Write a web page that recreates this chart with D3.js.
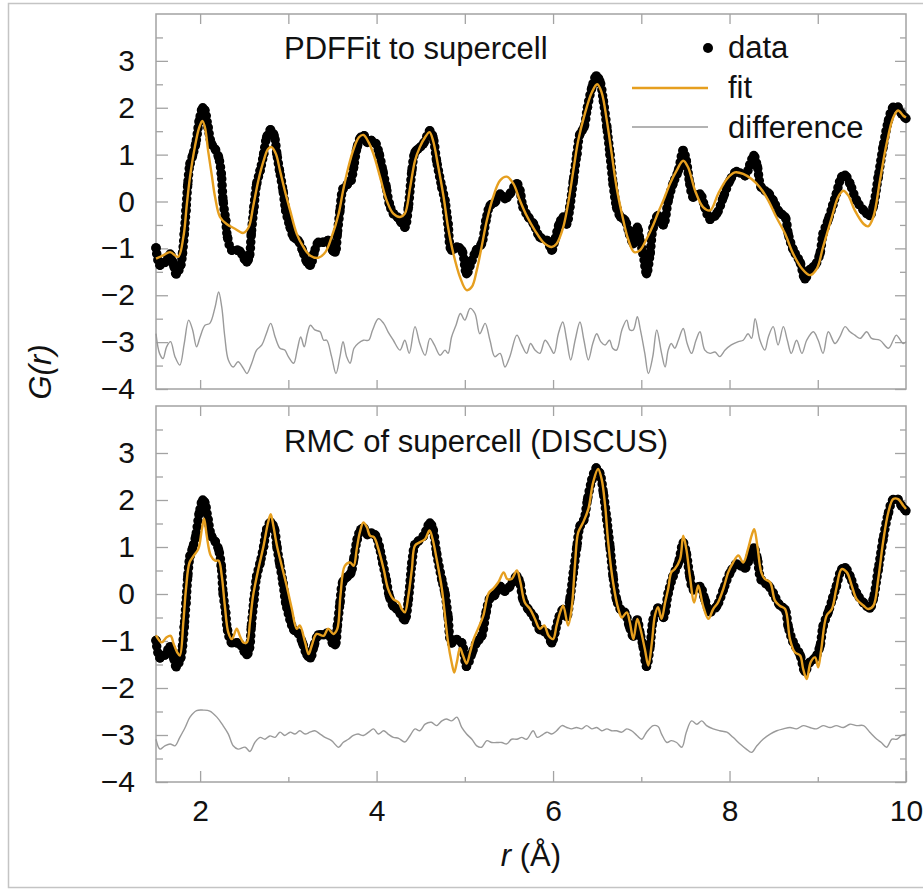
<!DOCTYPE html>
<html lang="en">
<head>
<meta charset="UTF-8">
<title>G(r): PDFFit and RMC of supercell</title>
<script src="https://d3js.org/d3.v7.min.js"></script>
<style>
  body { margin: 0; background: #fff; }
  svg { display: block; font-family: "Liberation Sans", Arial, Helvetica, sans-serif; }
  .tick text { fill: #111; }
</style>
</head>
<body>
<script>
// observed G(r), shared by both panels
const obsPts = [[1.50,-0.99],[1.545,-1.36],[1.60,-1.30],[1.66,-1.12],[1.70,-1.36],[1.73,-1.55],[1.78,-1.36],[1.80,-1.11],[1.82,-0.69],[1.84,-0.19],[1.86,0.37],[1.885,0.80],[1.915,0.98],[1.95,1.23],[1.99,1.72],[2.03,2.0],[2.055,1.94],[2.09,1.58],[2.13,1.23],[2.17,1.12],[2.21,0.94],[2.24,0.59],[2.26,0.02],[2.29,-0.40],[2.31,-0.76],[2.36,-1.04],[2.42,-1.04],[2.45,-1.06],[2.50,-1.22],[2.53,-1.29],[2.56,-1.15],[2.58,-0.69],[2.61,-0.12],[2.64,0.37],[2.68,0.66],[2.72,1.01],[2.754,1.37],[2.80,1.53],[2.84,1.40],[2.87,1.01],[2.90,0.66],[2.94,0.23],[2.97,-0.19],[3.02,-0.55],[3.06,-0.76],[3.11,-0.83],[3.16,-1.04],[3.21,-1.29],[3.25,-1.36],[3.29,-1.11],[3.34,-0.87],[3.40,-0.87],[3.45,-0.83],[3.50,-1.04],[3.53,-1.08],[3.555,-0.69],[3.585,-0.19],[3.62,0.27],[3.67,0.37],[3.71,0.45],[3.74,0.73],[3.78,1.16],[3.82,1.37],[3.86,1.40],[3.895,1.26],[3.94,1.30],[3.99,1.24],[4.03,1.01],[4.07,0.66],[4.11,0.30],[4.145,-0.05],[4.19,-0.26],[4.235,-0.33],[4.27,-0.42],[4.32,-0.55],[4.36,-0.12],[4.40,0.66],[4.435,1.05],[4.47,1.12],[4.53,1.23],[4.605,1.51],[4.64,1.37],[4.68,0.87],[4.74,0.30],[4.775,0.02],[4.81,-0.48],[4.85,-1.04],[4.91,-0.97],[4.965,-1.04],[5.02,-1.54],[5.08,-1.26],[5.13,-1.04],[5.19,-0.90],[5.24,-0.40],[5.285,-0.09],[5.34,-0.02],[5.40,0.16],[5.455,0.06],[5.51,0.16],[5.59,0.38],[5.625,0.23],[5.66,-0.12],[5.72,-0.33],[5.78,-0.48],[5.85,-0.76],[5.93,-0.83],[5.985,-1.04],[6.02,-0.83],[6.07,-0.48],[6.115,-0.33],[6.155,-0.48],[6.19,-0.12],[6.23,0.45],[6.27,1.01],[6.305,1.44],[6.35,1.58],[6.39,2.01],[6.44,2.43],[6.49,2.68],[6.53,2.57],[6.57,2.15],[6.61,1.58],[6.645,1.01],[6.68,0.38],[6.72,-0.12],[6.765,-0.33],[6.815,-0.40],[6.865,-0.69],[6.91,-0.90],[6.955,-0.55],[6.985,-0.83],[7.02,-1.11],[7.06,-1.54],[7.10,-1.11],[7.135,-0.55],[7.19,-0.30],[7.25,-0.50],[7.305,0.02],[7.36,0.38],[7.42,0.66],[7.475,1.09],[7.51,0.87],[7.55,0.38],[7.59,0.09],[7.665,0.16],[7.72,-0.12],[7.78,-0.38],[7.855,-0.26],[7.93,0.09],[8.005,0.45],[8.08,0.64],[8.175,0.55],[8.23,0.78],[8.275,0.98],[8.315,0.75],[8.36,0.30],[8.44,0.18],[8.495,0.02],[8.57,-0.24],[8.63,-0.33],[8.665,-0.69],[8.72,-1.02],[8.80,-1.30],[8.855,-1.65],[8.91,-1.45],[8.97,-1.36],[9.025,-1.11],[9.06,-0.69],[9.12,-0.38],[9.17,-0.08],[9.21,0.16],[9.27,0.52],[9.31,0.56],[9.365,0.38],[9.44,0.02],[9.52,-0.19],[9.59,-0.30],[9.63,-0.10],[9.685,0.52],[9.74,1.16],[9.80,1.72],[9.855,2.01],[9.91,2.01],[9.95,1.87],[10.0,1.77]];

// top panel: PDFFit
const fitPdf = [[1.50,-1.22],[1.58,-1.15],[1.66,-1.08],[1.75,-1.18],[1.81,-0.76],[1.85,-0.05],[1.885,0.52],[1.94,1.16],[1.99,1.58],[2.025,1.72],[2.055,1.58],[2.09,1.09],[2.13,0.59],[2.17,0.09],[2.225,-0.33],[2.30,-0.48],[2.395,-0.58],[2.49,-0.67],[2.55,-0.55],[2.60,-0.12],[2.66,0.45],[2.72,0.87],[2.77,1.12],[2.81,1.16],[2.86,1.01],[2.905,0.66],[2.96,0.23],[3.02,-0.19],[3.095,-0.69],[3.17,-0.97],[3.245,-1.15],[3.34,-1.20],[3.42,-1.08],[3.49,-0.76],[3.57,-0.26],[3.62,0.23],[3.68,0.73],[3.74,1.12],[3.80,1.37],[3.85,1.42],[3.91,1.26],[3.965,1.01],[4.04,0.52],[4.115,0.02],[4.19,-0.26],[4.265,-0.33],[4.32,-0.26],[4.38,0.30],[4.435,0.87],[4.49,1.16],[4.55,1.37],[4.60,1.48],[4.64,1.30],[4.70,0.73],[4.76,0.09],[4.81,-0.55],[4.87,-1.11],[4.945,-1.61],[5.02,-1.89],[5.08,-1.82],[5.135,-1.47],[5.19,-0.97],[5.25,-0.40],[5.32,0.09],[5.40,0.45],[5.475,0.53],[5.55,0.38],[5.625,0.02],[5.70,-0.30],[5.795,-0.62],[5.89,-0.87],[5.985,-0.97],[6.04,-0.90],[6.115,-0.55],[6.17,-0.05],[6.23,0.66],[6.285,1.30],[6.36,1.87],[6.44,2.33],[6.50,2.50],[6.55,2.33],[6.61,1.72],[6.665,1.01],[6.72,0.30],[6.78,-0.26],[6.85,-0.80],[6.92,-1.08],[6.985,-1.04],[7.06,-0.80],[7.135,-0.50],[7.19,-0.24],[7.25,0.02],[7.325,0.38],[7.40,0.66],[7.475,0.87],[7.53,0.73],[7.61,0.23],[7.70,-0.12],[7.78,-0.19],[7.87,0.16],[7.97,0.48],[8.06,0.62],[8.155,0.59],[8.25,0.48],[8.345,0.30],[8.44,0.02],[8.53,-0.33],[8.63,-0.69],[8.72,-1.11],[8.82,-1.43],[8.91,-1.57],[8.99,-1.43],[9.06,-0.97],[9.16,-0.33],[9.23,0.09],[9.29,0.23],[9.345,0.13],[9.42,-0.19],[9.52,-0.48],[9.57,-0.53],[9.63,-0.33],[9.705,0.45],[9.78,1.23],[9.855,1.79],[9.91,1.94],[9.97,1.83],[10.0,1.79]];

const diffPdf = [[1.50,-2.82],[1.54,-3.24],[1.58,-3.35],[1.62,-3.10],[1.665,-2.99],[1.715,-3.31],[1.77,-3.49],[1.82,-3.03],[1.87,-2.53],[1.915,-2.74],[1.96,-3.10],[2.0,-2.89],[2.055,-2.64],[2.11,-2.60],[2.17,-2.25],[2.21,-1.93],[2.245,-2.25],[2.28,-2.89],[2.32,-3.38],[2.376,-3.53],[2.43,-3.42],[2.49,-3.56],[2.53,-3.67],[2.585,-3.45],[2.64,-3.17],[2.70,-3.06],[2.75,-2.82],[2.80,-2.60],[2.85,-2.89],[2.905,-3.13],[2.96,-3.17],[3.0,-3.31],[3.06,-3.45],[3.10,-3.17],[3.14,-2.89],[3.18,-3.10],[3.215,-2.82],[3.25,-2.64],[3.30,-2.74],[3.36,-2.78],[3.40,-2.96],[3.435,-2.96],[3.49,-3.31],[3.54,-3.67],[3.585,-3.31],[3.62,-2.99],[3.66,-3.31],[3.70,-3.45],[3.744,-3.13],[3.79,-3.03],[3.85,-2.96],[3.91,-2.96],[3.955,-2.74],[4.02,-2.50],[4.08,-2.60],[4.13,-2.78],[4.19,-2.96],[4.265,-3.17],[4.32,-2.96],[4.37,-3.24],[4.435,-2.67],[4.49,-3.03],[4.55,-3.28],[4.605,-2.92],[4.655,-3.06],[4.72,-3.28],[4.775,-3.17],[4.81,-3.24],[4.85,-2.89],[4.9,-2.64],[4.95,-2.39],[5.0,-2.53],[5.06,-2.28],[5.115,-2.39],[5.17,-2.82],[5.23,-2.60],[5.285,-2.96],[5.34,-3.31],[5.40,-3.24],[5.455,-3.53],[5.51,-3.31],[5.59,-2.85],[5.645,-3.06],[5.70,-3.24],[5.745,-3.03],[5.795,-3.17],[5.85,-3.24],[5.91,-2.96],[5.965,-3.10],[6.01,-3.24],[6.06,-2.82],[6.11,-2.57],[6.155,-2.96],[6.20,-3.38],[6.25,-2.96],[6.305,-2.57],[6.35,-2.96],[6.40,-3.38],[6.45,-3.03],[6.495,-2.82],[6.54,-2.99],[6.59,-3.06],[6.64,-2.96],[6.675,-3.13],[6.72,-3.17],[6.78,-2.74],[6.835,-2.53],[6.87,-2.74],[6.91,-2.74],[6.955,-2.46],[6.99,-2.74],[7.04,-3.24],[7.08,-3.67],[7.13,-3.31],[7.175,-2.74],[7.23,-3.24],[7.27,-3.53],[7.305,-3.17],[7.34,-3.03],[7.38,-3.13],[7.42,-2.96],[7.475,-2.71],[7.52,-3.03],[7.57,-3.24],[7.62,-2.96],[7.665,-2.78],[7.72,-3.17],[7.78,-3.24],[7.835,-3.21],[7.89,-3.31],[7.95,-3.17],[8.02,-3.06],[8.10,-2.99],[8.155,-2.96],[8.21,-2.82],[8.25,-2.92],[8.29,-2.50],[8.345,-2.96],[8.40,-3.17],[8.44,-2.89],[8.495,-2.67],[8.55,-3.06],[8.61,-2.67],[8.655,-2.96],[8.70,-3.24],[8.76,-2.96],[8.82,-3.24],[8.875,-2.96],[8.95,-2.78],[9.005,-2.96],[9.06,-3.24],[9.12,-2.78],[9.195,-3.03],[9.25,-2.89],[9.31,-2.67],[9.365,-2.78],[9.42,-2.85],[9.48,-2.92],[9.555,-2.78],[9.61,-2.92],[9.705,-2.96],[9.80,-3.13],[9.855,-2.96],[9.89,-2.85],[9.97,-3.03],[10.0,-2.99]];

// bottom panel: RMC (DISCUS)
const fitRmc = [[1.50,-0.88],[1.565,-1.03],[1.62,-0.92],[1.666,-0.89],[1.70,-1.06],[1.74,-1.24],[1.77,-1.31],[1.81,-0.60],[1.84,0.11],[1.88,0.67],[1.93,0.82],[1.98,0.96],[2.02,1.38],[2.045,1.60],[2.075,1.24],[2.12,0.82],[2.17,0.71],[2.21,0.71],[2.245,0.39],[2.28,-0.25],[2.32,-0.82],[2.36,-0.96],[2.415,-0.74],[2.45,-0.89],[2.49,-1.03],[2.53,-1.03],[2.565,-0.60],[2.60,-0.04],[2.66,0.53],[2.72,1.03],[2.77,1.52],[2.80,1.70],[2.83,1.45],[2.87,1.03],[2.925,0.60],[2.98,0.18],[3.04,-0.32],[3.095,-0.74],[3.13,-0.67],[3.19,-1.03],[3.23,-1.28],[3.265,-1.10],[3.32,-0.85],[3.40,-0.89],[3.45,-0.74],[3.51,-0.85],[3.555,-0.74],[3.59,-0.04],[3.64,0.60],[3.70,0.67],[3.74,0.60],[3.775,0.96],[3.81,1.31],[3.85,1.52],[3.89,1.42],[3.925,1.24],[3.97,1.21],[4.02,0.96],[4.08,0.53],[4.13,0.11],[4.19,-0.11],[4.25,-0.18],[4.285,-0.32],[4.32,-0.39],[4.36,-0.04],[4.40,0.53],[4.435,1.03],[4.49,1.10],[4.55,1.17],[4.60,1.35],[4.635,1.17],[4.68,0.75],[4.74,0.11],[4.775,-0.46],[4.81,-1.03],[4.85,-1.45],[4.88,-1.67],[4.91,-1.45],[4.945,-1.15],[4.98,-1.31],[5.02,-1.48],[5.06,-1.24],[5.10,-0.96],[5.15,-0.74],[5.21,-0.46],[5.27,0.02],[5.32,0.11],[5.38,0.25],[5.44,0.46],[5.48,0.32],[5.53,0.32],[5.59,0.50],[5.63,0.25],[5.68,-0.18],[5.74,-0.32],[5.795,-0.53],[5.85,-0.74],[5.90,-0.67],[5.95,-0.89],[6.0,-0.96],[6.04,-0.67],[6.08,-0.39],[6.115,-0.25],[6.17,-0.67],[6.21,-0.32],[6.25,0.67],[6.285,1.31],[6.34,1.52],[6.40,1.81],[6.455,2.38],[6.51,2.66],[6.55,2.45],[6.59,1.88],[6.625,1.10],[6.68,0.25],[6.74,-0.32],[6.78,-0.50],[6.835,-0.39],[6.87,-0.60],[6.91,-0.96],[6.955,-0.53],[6.99,-0.74],[7.04,-1.17],[7.08,-1.52],[7.12,-1.03],[7.155,-0.45],[7.19,-0.28],[7.23,-0.53],[7.27,-0.18],[7.305,0.11],[7.34,0.46],[7.38,0.53],[7.44,0.74],[7.475,1.24],[7.51,0.96],[7.55,0.39],[7.60,-0.18],[7.645,0.18],[7.70,-0.25],[7.76,-0.53],[7.815,-0.32],[7.87,-0.18],[7.93,0.11],[7.985,0.46],[8.04,0.67],[8.10,0.82],[8.155,0.67],[8.21,0.96],[8.25,1.24],[8.28,1.38],[8.315,1.03],[8.36,0.46],[8.40,0.32],[8.46,0.25],[8.515,-0.14],[8.57,-0.25],[8.63,-0.32],[8.685,-0.96],[8.74,-1.24],[8.80,-1.31],[8.835,-1.60],[8.875,-1.81],[8.92,-1.45],[8.97,-1.35],[9.005,-1.56],[9.04,-1.17],[9.10,-0.46],[9.16,-0.32],[9.21,0.11],[9.27,0.53],[9.33,0.46],[9.385,0.18],[9.44,-0.11],[9.52,-0.25],[9.57,-0.32],[9.63,-0.25],[9.685,0.32],[9.74,1.10],[9.80,1.74],[9.855,2.02],[9.91,2.02],[9.97,1.88],[10.0,1.81]];

const diffRmc = [[1.50,-3.09],[1.545,-3.30],[1.60,-3.23],[1.66,-3.19],[1.715,-3.23],[1.77,-3.05],[1.83,-2.84],[1.885,-2.62],[1.96,-2.48],[2.037,-2.47],[2.11,-2.49],[2.19,-2.62],[2.26,-2.80],[2.32,-2.98],[2.375,-3.23],[2.43,-3.30],[2.51,-3.26],[2.565,-3.35],[2.62,-3.16],[2.68,-3.05],[2.735,-3.09],[2.79,-3.02],[2.85,-3.05],[2.905,-2.94],[2.96,-3.01],[3.02,-2.94],[3.075,-2.98],[3.13,-2.91],[3.19,-2.98],[3.245,-2.94],[3.30,-2.91],[3.36,-2.98],[3.415,-3.05],[3.49,-3.12],[3.57,-3.26],[3.62,-3.16],[3.68,-3.09],[3.737,-3.01],[3.79,-2.98],[3.85,-3.01],[3.91,-2.94],[3.965,-2.87],[4.02,-2.98],[4.08,-2.91],[4.13,-2.98],[4.19,-3.05],[4.25,-3.07],[4.32,-3.15],[4.38,-3.01],[4.435,-2.87],[4.49,-2.91],[4.55,-2.77],[4.62,-2.73],[4.68,-2.80],[4.74,-2.70],[4.79,-2.66],[4.85,-2.70],[4.91,-2.62],[4.965,-2.84],[5.02,-2.98],[5.08,-3.09],[5.135,-3.23],[5.19,-3.26],[5.25,-3.12],[5.305,-3.16],[5.36,-3.16],[5.42,-3.16],[5.475,-3.19],[5.53,-3.09],[5.59,-3.09],[5.645,-3.05],[5.70,-3.09],[5.775,-2.91],[5.82,-3.05],[5.87,-3.01],[5.93,-2.94],[5.985,-2.98],[6.04,-2.91],[6.10,-2.80],[6.155,-2.84],[6.21,-2.87],[6.265,-2.84],[6.325,-2.87],[6.38,-2.80],[6.44,-2.87],[6.495,-2.84],[6.55,-2.91],[6.61,-2.87],[6.665,-2.91],[6.72,-2.91],[6.78,-2.94],[6.835,-2.87],[6.89,-2.91],[6.95,-3.01],[7.005,-3.09],[7.06,-2.94],[7.135,-2.80],[7.19,-2.82],[7.23,-2.98],[7.29,-3.16],[7.34,-3.12],[7.40,-3.16],[7.46,-3.26],[7.51,-2.94],[7.57,-2.70],[7.63,-2.77],[7.685,-2.70],[7.74,-2.80],[7.815,-2.87],[7.89,-2.91],[7.97,-2.94],[8.04,-3.05],[8.12,-3.19],[8.19,-3.30],[8.25,-3.37],[8.31,-3.23],[8.38,-3.09],[8.46,-2.98],[8.535,-2.91],[8.61,-2.87],[8.685,-2.84],[8.76,-2.87],[8.835,-2.80],[8.91,-2.84],[8.985,-2.87],[9.06,-2.80],[9.14,-2.84],[9.21,-2.80],[9.29,-2.84],[9.365,-2.77],[9.44,-2.80],[9.52,-2.80],[9.59,-2.94],[9.67,-3.09],[9.72,-3.16],[9.78,-3.26],[9.84,-3.09],[9.895,-3.09],[9.95,-3.01],[10.0,-2.98]];

// ticks and labels
const yMajor = [-4, -3, -2, -1, 0, 1, 2, 3];
const yMinor = [-3.5, -2.5, -1.5, -0.5, 0.5, 1.5, 2.5, 3.5];
const xAll = [2, 3, 4, 5, 6, 7, 8, 9];
const xLabelled = [2, 4, 6, 8, 10];
const xMinor = [3, 5, 7, 9];
const panelTitles = ["PDFFit to supercell", "RMC of supercell (DISCUS)"];
const legendLabels = ["data", "fit", "difference"];

const orange = "#e69f1f";
const grey = "#9a9a9a";
const frameCol = "#a3a3a3";

const svg = d3.select("body").append("svg")
    .attr("width", 923)
    .attr("height", 890);

// outer border of the figure
svg.append("rect")
    .attr("x", 8.5).attr("y", 3.5)
    .attr("width", 930).attr("height", 884)
    .attr("fill", "none")
    .attr("stroke", "#c4c4c4")
    .attr("stroke-width", 1.5);

const x = d3.scaleLinear().domain([1.5, 10]).range([156, 906]);
const panels = [
    { y: d3.scaleLinear().domain([-4, 4]).range([389, 14]), fit: fitPdf, diff: diffPdf },
    { y: d3.scaleLinear().domain([-4, 4]).range([782, 406]), fit: fitRmc, diff: diffRmc }
];

panels.forEach((p, i) => {
    const y = p.y;
    const g = svg.append("g");
    const [y0, y1] = y.range();   // bottom, top
    const line = d3.line()
        .x(d => x(d[0]))
        .y(d => y(d[1]))
        .curve(d3.curveCatmullRom.alpha(0.5));

    // axes: all ticks point inward
    const styleAxis = sel => {
        sel.select(".domain").remove();
        sel.selectAll(".tick line").attr("stroke", frameCol).attr("stroke-width", 1.3);
    };
    g.append("g").attr("transform", "translate(156,0)")
        .call(d3.axisLeft(y).tickValues(yMajor).tickSize(-12).tickPadding(21))
        .call(styleAxis)
        .selectAll("text").attr("font-size", 30).attr("font-family", "Liberation Sans, Arial, sans-serif");
    g.append("g").attr("transform", "translate(156,0)")
        .call(d3.axisLeft(y).tickValues(yMinor).tickSize(-7).tickFormat(""))
        .call(styleAxis);
    g.append("g").attr("transform", "translate(906,0)")
        .call(d3.axisRight(y).tickValues(yMajor).tickSize(-11).tickFormat(""))
        .call(styleAxis);
    g.append("g").attr("transform", "translate(906,0)")
        .call(d3.axisRight(y).tickValues(yMinor).tickSize(-6).tickFormat(""))
        .call(styleAxis);
    g.append("g").attr("transform", `translate(0,${y1})`)
        .call(d3.axisTop(x).tickValues(xAll).tickSize(-10).tickFormat(""))
        .call(styleAxis);

    if (i === 0) {
        g.append("g").attr("transform", `translate(0,${y0})`)
            .call(d3.axisBottom(x).tickValues(xAll).tickSize(-9).tickFormat(""))
            .call(styleAxis);
    } else {
        g.append("g").attr("transform", `translate(0,${y0})`)
            .call(d3.axisBottom(x).tickValues(xLabelled).tickSize(-11).tickPadding(18))
            .call(styleAxis)
            .selectAll("text").attr("font-size", 30).attr("font-family", "Liberation Sans, Arial, sans-serif");
        g.append("g").attr("transform", `translate(0,${y0})`)
            .call(d3.axisBottom(x).tickValues(xMinor).tickSize(-5).tickFormat(""))
            .call(styleAxis);
    }

    // frame
    g.append("rect")
        .attr("x", 156).attr("y", y1)
        .attr("width", 750).attr("height", y0 - y1)
        .attr("fill", "none")
        .attr("stroke", frameCol)
        .attr("stroke-width", 1.5);

    // data: dense black dots along the observed curve
    g.append("path").datum(obsPts)
        .attr("d", line)
        .attr("fill", "none")
        .attr("stroke", "#000")
        .attr("stroke-width", 9.5)
        .attr("stroke-linecap", "round")
        .attr("stroke-dasharray", "0 6");
    g.selectAll("circle.obs").data(obsPts).join("circle")
        .attr("class", "obs")
        .attr("cx", d => x(d[0]))
        .attr("cy", d => y(d[1]))
        .attr("r", 4.7)
        .attr("fill", "#000");

    // fit
    g.append("path").datum(p.fit)
        .attr("d", line)
        .attr("fill", "none")
        .attr("stroke", orange)
        .attr("stroke-width", 2.4);

    // difference
    g.append("path").datum(p.diff)
        .attr("d", line)
        .attr("fill", "none")
        .attr("stroke", grey)
        .attr("stroke-width", 1.4);

    g.append("text")
        .attr("x", 284)
        .attr("y", i === 0 ? 59 : 452)
        .attr("font-size", 31)
        .attr("fill", "#111")
        .text(panelTitles[i]);
});

// legend (top panel)
const leg = svg.append("g");
leg.append("circle").attr("cx", 708).attr("cy", 48).attr("r", 5).attr("fill", "#000");
leg.append("line").attr("x1", 632).attr("x2", 708).attr("y1", 88).attr("y2", 88)
    .attr("stroke", orange).attr("stroke-width", 2.4);
leg.append("line").attr("x1", 632).attr("x2", 708).attr("y1", 127).attr("y2", 127)
    .attr("stroke", grey).attr("stroke-width", 1.4);
leg.selectAll("text").data(legendLabels).join("text")
    .attr("x", 728)
    .attr("y", (d, i) => 58 + i * 40)
    .attr("font-size", 31)
    .attr("fill", "#111")
    .text(d => d);

// axis titles
const yt = svg.append("text")
    .attr("transform", "translate(51,372) rotate(-90)")
    .attr("text-anchor", "middle")
    .attr("font-size", 31)
    .attr("font-style", "italic")
    .attr("fill", "#111");
yt.text("G(r)");

const xt = svg.append("text")
    .attr("x", 531).attr("y", 866)
    .attr("text-anchor", "middle")
    .attr("font-size", 31)
    .attr("fill", "#111");
xt.append("tspan").attr("font-style", "italic").text("r");
xt.append("tspan").text(" (Å)");
</script>
</body>
</html>
